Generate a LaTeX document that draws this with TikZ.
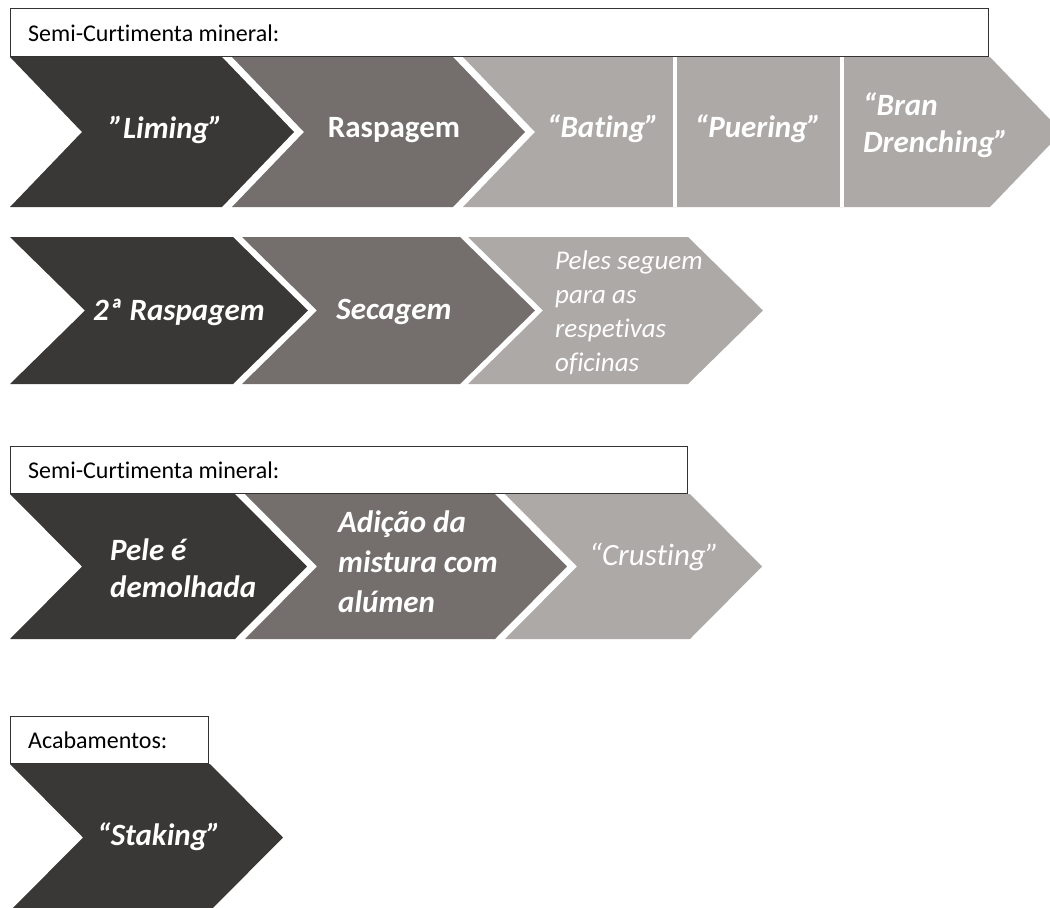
\documentclass[tikz,border=0pt]{standalone}
\usepackage{fontspec}
\setmainfont{Carlito}[Ligatures={TeX,NoCommon}]
\usetikzlibrary{positioning}
\definecolor{chevdark}{RGB}{58,56,54}
\definecolor{chevmid}{RGB}{116,111,109}
\definecolor{chevlight}{RGB}{173,169,167}
\tikzset{
  hdr/.style    ={draw=black!80, fill=white, line width=1pt},
  hdrtxt/.style ={anchor=west, inner sep=0pt, font=\fontsize{24}{28}\selectfont},
  lbl/.style    ={text=white, inner sep=0pt, font=\fontsize{31}{37}\selectfont\bfseries\itshape},
  lblup/.style  ={lbl, font=\fontsize{31}{37}\selectfont\bfseries},
  lbllt/.style  ={lbl, font=\fontsize{31}{37}\selectfont\itshape},
  lblml/.style  ={lbl, anchor=west, align=left},
  sep/.style    ={white, line width=4pt},
}
% chevron: left x, top-right x, top y, bottom y, point depth, colour
\newcommand{\chevshape}[6]{%
  \fill[#6] (#1,#3) -- (#2,#3) -- ({#2+#5},{(#3+#4)/2}) -- (#2,#4)
            -- (#1,#4) -- ({#1+#5},{(#3+#4)/2}) -- cycle;}
\newcommand{\sq}{\symbol{34}}

\begin{document}
\begin{tikzpicture}[x=1pt,y=-1pt]
  \useasboundingbox (0,0) rectangle (1050,908);
  \clip (0,0) rectangle (1050,908);

  % first row
  \draw[hdr] (10,8) rectangle (988,56);
  \node[hdrtxt] (hdrA) at (28,33) {Semi-Curtimenta mineral:};
  \chevshape{10}{222}{57}{207}{72}{chevdark}
  \chevshape{232}{453}{57}{207}{72}{chevmid}
  \chevshape{463}{990}{57}{207}{72}{chevlight}
  \draw[sep] (675,57) -- (675,207);
  \draw[sep] (842,57) -- (842,207);
  \node[lbl]   (liming)  at (166,130) {\sq Liming\sq};
  \node[lblup] (rasp)    at (394,130) {Raspagem};
  \node[lbl]   (bating)  at (603,129) {“Bating”};
  \node[lbl]   (puering) at (758,129) {“Puering”};
  \node[lblml] (bran)    at (863,125) {“Bran\\Drenching”};

  % second row
  \chevshape{10}{233}{237}{384}{75}{chevdark}
  \chevshape{242}{460}{237}{384}{75}{chevmid}
  \chevshape{468}{688}{237}{384}{75}{chevlight}
  \node[lbl] (raspB)   at (179,312) {2ª Raspagem};
  \node[lbl] (secagem) at (394,312) {Secagem};
  \node[lblml, font=\fontsize{27}{34}\selectfont\itshape] (peles) at (555,313)
        {Peles seguem\\para as\\respetivas\\oficinas};

  % third row
  \draw[hdr] (10,446) rectangle (687,493);
  \node[hdrtxt] (hdrB) at (28,470) {Semi-Curtimenta mineral:};
  \chevshape{10}{235}{494}{639}{72}{chevdark}
  \chevshape{245}{495}{494}{639}{72}{chevmid}
  \chevshape{505}{690}{494}{639}{72}{chevlight}
  \node[lblml] (pele) at (110,568) {Pele é\\demolhada};
  \node[lblml, font=\fontsize{31}{40}\selectfont\bfseries\itshape] (adicao) at (338,562)
        {Adição da\\mistura com\\alúmen};
  \node[lbllt] (crusting) at (654,557) {“Crusting”};

  % fourth row
  \draw[hdr] (10,716) rectangle (208,763);
  \node[hdrtxt] (hdrC) at (28,740) {Acabamentos:};
  \chevshape{10}{210}{764}{911}{73}{chevdark}
  \node[lbl] (staking) at (159,837) {“Staking”};
\end{tikzpicture}
\end{document}
